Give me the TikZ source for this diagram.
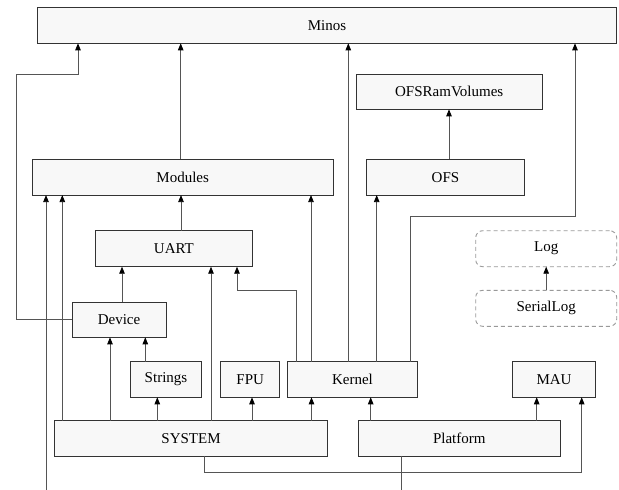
\documentclass[tikz,border=0pt]{standalone}
\usepackage{fontspec}
\setmainfont{Liberation Serif}
\usetikzlibrary{arrows.meta}
\definecolor{boxfill}{HTML}{F8F8F8}
\definecolor{boxline}{HTML}{333333}
\definecolor{edgecol}{HTML}{555555}
\definecolor{dashcol}{HTML}{999999}
\tikzset{
  box/.style={draw=boxline, fill=boxfill, line width=0.8pt, inner sep=0pt, outer sep=0pt,
    font=\fontsize{15}{18}\selectfont, text=black},
  dbox/.style={draw=dashcol, fill=white, line width=0.9pt, dash pattern=on 4pt off 3pt,
    rounded corners=7pt, inner sep=0pt, outer sep=0pt, font=\fontsize{15}{18}\selectfont},
  edge/.style={draw=edgecol, line width=0.8pt, -{Triangle[length=7pt,width=5.5pt,black]}},
  plain/.style={draw=edgecol, line width=0.8pt}
}
\begin{document}
\begin{tikzpicture}[x=1pt,y=-1pt]
\useasboundingbox (0,0) rectangle (619,490);
% nodes
\node[box, minimum width=579.4pt, minimum height=36pt] (Minos) at (327,25.3) {Minos};
\node[box, minimum width=186.3pt, minimum height=35.3pt] (OFSRamVolumes) at (449.2,91.7) {OFSRamVolumes};
\node[box, minimum width=301.3pt, minimum height=35.7pt] (Modules) at (182.7,177.2) {Modules};
\node[box, minimum width=157.6pt, minimum height=35.7pt] (OFS) at (445.5,177.2) {OFS};
\node[box, minimum width=156.3pt, minimum height=36pt] (UART) at (173.9,248.7) {UART};
\node[dbox, minimum width=141pt, minimum height=36pt] (Log) at (546.2,248.7) {Log};
\node[dbox, minimum width=141pt, minimum height=36pt] (SerialLog) at (546.2,308.3) {SerialLog};
\node[box, minimum width=94pt, minimum height=35.3pt] (Device) at (119,319.7) {Device};
\node[box, minimum width=71.4pt, minimum height=35.6pt] (Strings) at (166,379.5) {Strings};
\node[box, minimum width=59pt, minimum height=35.6pt] (FPU) at (250.2,379.5) {FPU};
\node[box, minimum width=130.4pt, minimum height=35.6pt] (Kernel) at (352.5,379.5) {Kernel};
\node[box, minimum width=82.6pt, minimum height=35.6pt] (MAU) at (554,379.5) {MAU};
\node[box, minimum width=272.6pt, minimum height=35.3pt] (SYSTEM) at (191,438.3) {SYSTEM};
\node[box, minimum width=201.3pt, minimum height=35.3pt] (Platform) at (459.3,438.3) {Platform};
\coordinate (cutA) at (46,490);
\coordinate (cutB) at (401.3,490);
% edges
\draw[edge] (Device.west) -- (16.7,319.7) -- (16.7,74.7) -- (78,74.7) -- (Minos.south -| 78,0);
\draw[edge] (Modules.north -| 180.7,0) -- (Minos.south -| 180.7,0);
\draw[edge] (Kernel.north -| 348.3,0) -- (Minos.south -| 348.3,0);
\draw[edge] (Kernel.north -| 410.7,0) -- (410.7,216.7) -- (575,216.7) -- (Minos.south -| 575,0);
\draw[edge] (OFS.north -| 449,0) -- (OFSRamVolumes.south -| 449,0);
\draw[edge] (cutA) -- (Modules.south -| 46,0);
\draw[edge] (SYSTEM.north -| 62.3,0) -- (Modules.south -| 62.3,0);
\draw[edge] (UART.north -| 181,0) -- (Modules.south -| 181,0);
\draw[edge] (Kernel.north -| 311,0) -- (Modules.south -| 311,0);
\draw[edge] (Device.north -| 122,0) -- (UART.south -| 122,0);
\draw[edge] (SYSTEM.north -| 211,0) -- (UART.south -| 211,0);
\draw[edge] (Kernel.north -| 296.3,0) -- (296.3,290) -- (237,290) -- (UART.south -| 237,0);
\draw[edge] (Kernel.north -| 376.7,0) -- (OFS.south -| 376.7,0);
\draw[edge] (SerialLog.north) -- (Log.south);
\draw[edge] (SYSTEM.north -| 110,0) -- (Device.south -| 110,0);
\draw[edge] (Strings.north -| 145.3,0) -- (Device.south -| 145.3,0);
\draw[edge] (SYSTEM.north -| 157.3,0) -- (Strings.south -| 157.3,0);
\draw[edge] (SYSTEM.north -| 252,0) -- (FPU.south -| 252,0);
\draw[edge] (SYSTEM.north -| 311.5,0) -- (Kernel.south -| 311.5,0);
\draw[edge] (Platform.north -| 370.7,0) -- (Kernel.south -| 370.7,0);
\draw[edge] (Platform.north -| 536.7,0) -- (MAU.south -| 536.7,0);
\draw[edge] (SYSTEM.south -| 204.7,0) -- (204.7,472.3) -- (581.7,472.3) -- (MAU.south -| 581.7,0);
\draw[plain] (Platform.south -| 401.3,0) -- (cutB);
\end{tikzpicture}
\end{document}
